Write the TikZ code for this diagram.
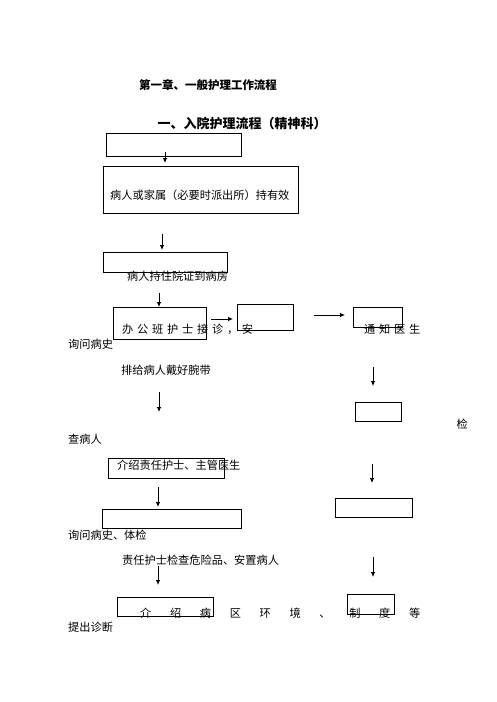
\documentclass[tikz,border=0pt]{standalone}
\usepackage{fontspec}
\setmainfont{Noto Sans CJK SC}
\usetikzlibrary{arrows.meta}
\tikzset{
  box/.style={draw=black, line width=1pt, inner sep=0pt, fill=none},
  lbl/.style={inner sep=0pt, anchor=base west, font=\fontsize{11.2}{13}\selectfont},
  conn/.style={line width=0.8pt, -{Latex[length=5pt,width=4.5pt]}},
}
\begin{document}
\begin{tikzpicture}[x=1pt,y=-1pt]
\useasboundingbox (0,0) rectangle (496,702);
% titles
\node[inner sep=0pt, anchor=base, font=\fontsize{11.5}{13}\selectfont\bfseries] (title) at (208,89.5) {第一章、一般护理工作流程};
\node[inner sep=0pt, anchor=base, font=\fontsize{13}{15}\selectfont\bfseries] (subtitle) at (242,128) {一、入院护理流程（精神科）};
% boxes
\node[box, minimum width=135pt, minimum height=23pt] (b1) at (173.5,144.5) {};
\node[box, minimum width=195pt, minimum height=47pt] (b2) at (200.5,189.5) {};
\node[box, minimum width=124pt, minimum height=20pt] (b3) at (165,262) {};
\node[box, minimum width=93pt, minimum height=32pt] (b4) at (159.5,323) {};
\node[box, minimum width=56pt, minimum height=26pt] (b5) at (265,317) {};
\node[box, minimum width=49pt, minimum height=20pt] (b6) at (377.5,317) {};
\node[box, minimum width=46pt, minimum height=19pt] (b7) at (378,411.5) {};
\node[box, minimum width=116pt, minimum height=20pt] (b8) at (166,468) {};
\node[box, minimum width=77pt, minimum height=19pt] (b9) at (373.5,507.5) {};
\node[box, minimum width=139pt, minimum height=19pt] (b10) at (171.5,518.5) {};
\node[box, minimum width=96pt, minimum height=19pt] (b11) at (165,606.5) {};
\node[box, minimum width=47pt, minimum height=20pt] (b12) at (370.5,604) {};
% texts
\node[lbl] (t2) at (110,199.2) {病人或家属（必要时派出所）持有效};
\node[lbl] (t3) at (127,280) {病人持住院证到病房};
\node[lbl] (t4) at (122,333) {\makebox[131pt][s]{办\hfill 公\hfill 班\hfill 护\hfill 士\hfill 接\hfill 诊\hfill ，\hfill 安}};
\node[lbl] (t6) at (364,333) {\makebox[56pt][s]{通\hfill 知\hfill 医\hfill 生}};
\node[lbl] (t7) at (68,348) {询问病史};
\node[lbl] (t8) at (121,374) {排给病人戴好腕带};
\node[lbl] (t9) at (456.5,428) {检};
\node[lbl] (t10) at (68,443) {查病人};
\node[lbl] (t11) at (117,469) {介绍责任护士、主管医生};
\node[lbl] (t12) at (68,539) {询问病史、体检};
\node[lbl] (t13) at (122,564) {责任护士检查危险品、安置病人};
\node[lbl] (t14) at (140,617) {\makebox[280pt][s]{介\hfill 绍\hfill 病\hfill 区\hfill 环\hfill 境\hfill 、\hfill 制\hfill 度\hfill 等}};
\node[lbl] (t15) at (68,631) {提出诊断};
% connector end points
\coordinate (a1s) at (165,152); \coordinate (a1e) at (165,163);
\coordinate (a2s) at (162,234); \coordinate (a2e) at (162,250);
\coordinate (a3s) at (159,293); \coordinate (a3e) at (159,307);
\coordinate (a4s) at (211,319); \coordinate (a4e) at (233,319);
\coordinate (a5s) at (314,315); \coordinate (a5e) at (345,315);
\coordinate (a6s) at (373,367); \coordinate (a6e) at (373,386);
\coordinate (a7s) at (159,392); \coordinate (a7e) at (159,412);
\coordinate (a8s) at (372,464); \coordinate (a8e) at (372,483);
\coordinate (a9s) at (158,487); \coordinate (a9e) at (158,507);
\coordinate (a10s) at (158,566); \coordinate (a10e) at (158,585);
\coordinate (a11s) at (373,557); \coordinate (a11e) at (373,577);
% connectors
\draw[conn] (a1s) -- (a1e);
\draw[conn] (a2s) -- (a2e);
\draw[conn] (a3s) -- (a3e);
\draw[conn] (a4s) -- (a4e);
\draw[conn] (a5s) -- (a5e);
\draw[conn] (a6s) -- (a6e);
\draw[conn] (a7s) -- (a7e);
\draw[conn] (a8s) -- (a8e);
\draw[conn] (a9s) -- (a9e);
\draw[conn] (a10s) -- (a10e);
\draw[conn] (a11s) -- (a11e);
\end{tikzpicture}
\end{document}
